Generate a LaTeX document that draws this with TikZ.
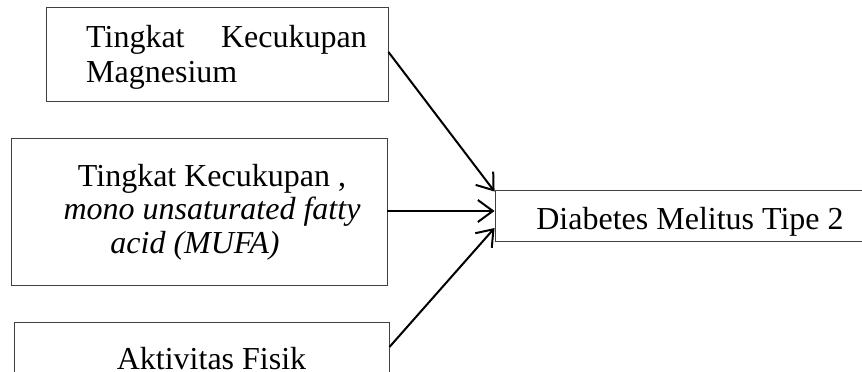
\documentclass[tikz,border=0pt]{standalone}
\usepackage{fontspec}
\setmainfont{Liberation Serif}
\usetikzlibrary{arrows.meta}
\begin{document}
\begin{tikzpicture}[x=1pt,y=-1pt,
  box/.style={draw=black!75,line width=0.9pt,inner sep=0pt,rectangle},
  txt/.style={inner sep=0pt,font=\fontsize{32}{34}\selectfont},
  arr/.style={line width=2pt,-{Straight Barb[length=15pt,width=22pt,line width=2pt]}}]
\useasboundingbox (0,0) rectangle (862,372);
\clip (0,0) rectangle (862,372);
\node[box,minimum width=342pt,minimum height=94pt] (b1) at (217,54) {};
\node[box,minimum width=376pt,minimum height=147pt] (b2) at (199,212) {};
\node[box,minimum width=375pt,minimum height=78pt] (b3) at (201.5,361) {};
\node[box,minimum width=385pt,minimum height=51pt] (b4) at (687.5,215.5) {};
% texts
\node[txt,anchor=base west] (t1a) at (86,47) {Tingkat};
\node[txt,anchor=base east] (t1b) at (367,47) {Kecukupan};
\node[txt,anchor=base west] (t1c) at (86,82) {Magnesium};
\node[txt,anchor=base] (t2a) at (212,186) {Tingkat Kecukupan ,};
\node[txt,anchor=base] (t2b) at (212,219) {\itshape mono unsaturated fatty};
\node[txt,anchor=base] (t2c) at (195,253) {\itshape acid (MUFA)};
\node[txt,anchor=base] (t3) at (211.5,369) {Aktivitas Fisik};
\node[txt,anchor=base] (t4) at (690,229) {Diabetes Melitus Tipe 2};
% arrows
\draw[arr] ([yshift=2pt]b1.east) -- ([yshift=-2pt]b4.north west);
\draw[arr] ([yshift=1pt]b2.east) -- ([yshift=1pt]b2.east -| b4.west);
\draw[arr] ([yshift=14pt]b3.east) -- ([yshift=-12.5pt]b4.west);
\end{tikzpicture}
\end{document}
